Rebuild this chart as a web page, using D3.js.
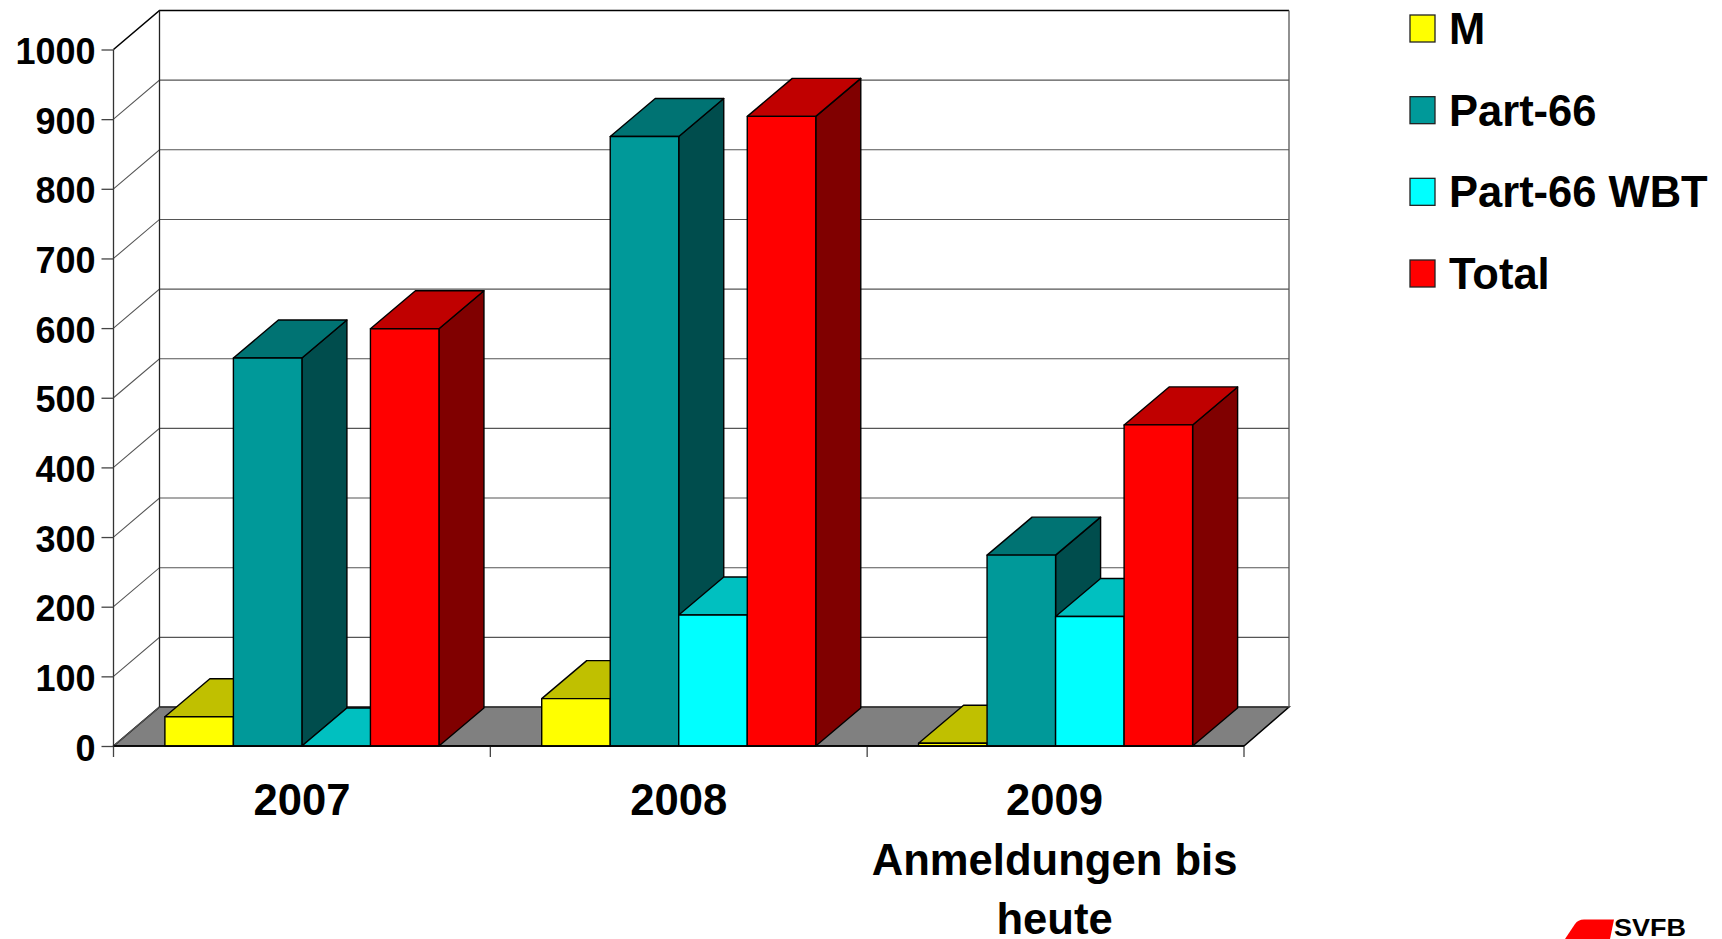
<!DOCTYPE html>
<html>
<head>
<meta charset="utf-8">
<script src="https://cdn.jsdelivr.net/npm/d3@7"></script>
<style>
  html, body { margin: 0; background: #fff; }
  svg { display: block; }
  text { font-family: "Liberation Sans", Arial, sans-serif; font-weight: bold; fill: #000; }
</style>
</head>
<body>
<div id="chart"></div>
<script>
// Data
const years = ['2007', '2008', '2009']
const yearLabels = [['2007'], ['2008'], ['2009', 'Anmeldungen bis', 'heute']]
const seriesNames = ['M', 'Part-66', 'Part-66 WBT', 'Total']
const valuesM = [42, 68, 4]
const valuesPart66 = [557, 875, 274]
const valuesWbt = [0, 188, 186]
const valuesTotal = [599, 904, 461]
const yTicks = [0, 100, 200, 300, 400, 500, 600, 700, 800, 900, 1000]

const seriesValues = [valuesM, valuesPart66, valuesWbt, valuesTotal]
const colors = [
  { front: '#ffff00', top: '#c0c000', side: '#808000' },
  { front: '#009999', top: '#007373', side: '#004d4d' },
  { front: '#00ffff', top: '#00c0c0', side: '#008080' },
  { front: '#ff0000', top: '#c00000', side: '#800000' },
]

// Dimensions
const chartW = 1722
const chartH = 939
const plotLeft = 113.5
const plotRight = 1244
const plotBottom = 746
const plotTop = 49.5
const depthX = 46
const depthY = 39
const barDepthY = 38

const svg = d3.select('#chart')
  .append('svg')
  .attr('width', chartW)
  .attr('height', chartH)

// scales
const y = d3.scaleLinear().domain([0, 1000]).range([plotBottom, plotTop])
const x0 = d3.scaleBand().domain(years).range([plotLeft, plotRight])
const x1 = d3.scaleBand()
  .domain(seriesNames)
  .range([0, x0.bandwidth()])
  .paddingInner(0)
  .paddingOuter(0.75)

const pts = a => a.map(p => p.join(',')).join(' ')

// walls and floor
svg.append('polygon')
  .attr('points', pts([[plotLeft, plotBottom], [plotLeft + depthX, plotBottom - depthY], [plotRight + depthX - 1, plotBottom - depthY], [plotRight, plotBottom]]))
  .attr('fill', '#808080')
  .attr('stroke', '#000')
  .attr('stroke-width', 1.5)

svg.append('g')
  .selectAll('polyline')
  .data(yTicks)
  .join('polyline')
  .attr('points', d => pts([[plotLeft, y(d)], [plotLeft + depthX, y(d) - depthY], [plotRight + depthX - 1, y(d) - depthY]]))
  .attr('fill', 'none')
  .attr('stroke', d => d === 1000 ? '#000' : '#555')
  .attr('stroke-width', d => d === 1000 ? 1.6 : 1.1)

svg.append('line')
  .attr('x1', plotLeft + depthX).attr('x2', plotLeft + depthX)
  .attr('y1', y(1000) - depthY).attr('y2', y(0) - depthY)
  .attr('stroke', '#222').attr('stroke-width', 1.3)
svg.append('line')
  .attr('x1', plotRight + depthX - 1).attr('x2', plotRight + depthX - 1)
  .attr('y1', y(1000) - depthY).attr('y2', y(0) - depthY)
  .attr('stroke', '#555').attr('stroke-width', 1.3)

// y axis
const yAxis = d3.axisLeft(y)
  .tickValues(yTicks)
  .tickFormat(d3.format('d'))
  .tickSize(12)
  .tickPadding(6)

svg.append('g')
  .attr('transform', `translate(${plotLeft}, 0)`)
  .call(yAxis)
  .call(g => g.selectAll('.domain').attr('stroke', '#333').attr('stroke-width', 1.3).attr('d', `M0,${plotTop}V${plotBottom}`))
  .call(g => g.selectAll('.tick line').attr('stroke', '#444').attr('stroke-width', 1.3))
  .call(g => g.selectAll('text').attr('font-size', 36).attr('font-family', '"Liberation Sans"').attr('font-weight', 'bold').attr('fill', '#000').attr('transform', 'translate(0, 2.5)'))

// x axis ticks sit on the group edges
const edges = years.map(d => x0(d)).concat(plotRight)
svg.append('g')
  .selectAll('line')
  .data(edges)
  .join('line')
  .attr('x1', d => d).attr('x2', d => d)
  .attr('y1', plotBottom).attr('y2', plotBottom + 11)
  .attr('stroke', '#444')
  .attr('stroke-width', 1.3)

// bars
const bars = []
years.forEach((yr, i) => {
  seriesNames.forEach((name, s) => {
    bars.push({ year: yr, name: name, value: seriesValues[s][i], color: colors[s] })
  })
})

const barG = svg.append('g')
  .attr('stroke', '#000')
  .attr('stroke-width', 1.4)
  .attr('stroke-linejoin', 'round')
  .selectAll('g')
  .data(bars)
  .join('g')

const bx = d => x0(d.year) + x1(d.name)
const bw = x1.bandwidth()

barG.append('polygon')
  .attr('fill', d => d.color.side)
  .attr('points', d => pts([
    [bx(d) + bw, y(d.value)],
    [bx(d) + bw + depthX - 1, y(d.value) - barDepthY],
    [bx(d) + bw + depthX - 1, y(0) - barDepthY],
    [bx(d) + bw, y(0)],
  ]))

barG.append('polygon')
  .attr('fill', d => d.color.top)
  .attr('points', d => pts([
    [bx(d), y(d.value)],
    [bx(d) + depthX - 1, y(d.value) - barDepthY],
    [bx(d) + bw + depthX - 1, y(d.value) - barDepthY],
    [bx(d) + bw, y(d.value)],
  ]))

barG.append('rect')
  .attr('fill', d => d.color.front)
  .attr('x', d => bx(d))
  .attr('y', d => y(d.value))
  .attr('width', bw)
  .attr('height', d => y(0) - y(d.value))

// front floor edge over the bars
svg.append('line')
  .attr('x1', plotLeft).attr('x2', plotRight)
  .attr('y1', plotBottom).attr('y2', plotBottom)
  .attr('stroke', '#000').attr('stroke-width', 1.5)

// category labels
svg.append('g')
  .selectAll('text')
  .data(years)
  .join('text')
  .attr('text-anchor', 'middle')
  .attr('font-size', 43.6)
  .attr('y', 815)
  .selectAll('tspan')
  .data((d, i) => yearLabels[i].map(line => ({ line, yr: d })))
  .join('tspan')
  .attr('x', d => x0(d.yr) + x0.bandwidth() / 2 - (d.yr === '2009' ? 1 : 0))
  .attr('dy', (d, i) => i ? 59.5 : 0)
  .text(d => d.line)

// legend
const legendY = d3.scalePoint().domain(seriesNames).range([28.5, 273.5])
const legend = svg.append('g')
  .selectAll('g')
  .data(seriesNames)
  .join('g')
  .attr('transform', d => `translate(1410, ${legendY(d)})`)

legend.append('rect')
  .attr('x', 0).attr('y', -13.5)
  .attr('width', 25).attr('height', 27)
  .attr('fill', (d, i) => colors[i].front)
  .attr('stroke', '#222')
  .attr('stroke-width', 1.3)

legend.append('text')
  .attr('x', 39)
  .attr('y', 15.5)
  .attr('font-size', 43.5)
  .text(d => d)

// logo
svg.append('path')
  .attr('d', 'M1565,939 L1575,924 Q1578,919.5 1584,919.5 L1614,919.5 L1610,939 Z')
  .attr('fill', '#ff0000')
svg.append('text')
  .attr('x', 1614)
  .attr('y', 935.5)
  .attr('font-size', 23)
  .attr('textLength', 72)
  .attr('lengthAdjust', 'spacingAndGlyphs')
  .text('SVFB')
</script>
</body>
</html>
